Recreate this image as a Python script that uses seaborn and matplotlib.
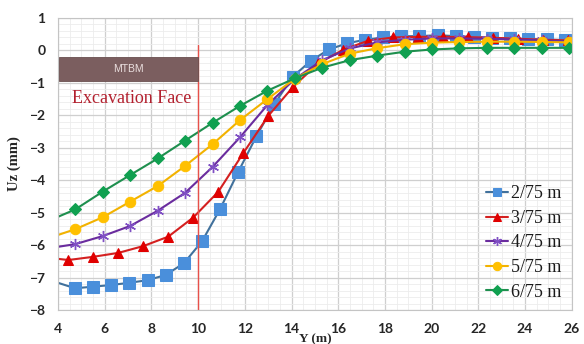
import matplotlib
matplotlib.use("Agg")
import matplotlib.pyplot as plt
from matplotlib.patches import Rectangle
from matplotlib.ticker import MultipleLocator
import pandas as pd
import seaborn as sns

# Vertical settlement Uz (mm) along the tunnel axis Y (m) for five depths.
# The first entry of each series lies just left of the plotted range; it only
# carries the line to the axis edge and gets no marker.
y_2_75 = [3.95, 4.73, 5.51, 6.28, 7.06, 7.84, 8.61, 9.39, 10.17, 10.94, 11.72,
          12.50, 13.27, 14.05, 14.83, 15.60, 16.38, 17.15, 17.93, 18.70, 19.48,
          20.26, 21.03, 21.81, 22.59, 23.37, 24.14, 24.92, 25.70]
uz_2_75 = [-7.15, -7.33, -7.28, -7.23, -7.16, -7.08, -6.92, -6.56, -5.88, -4.89,
           -3.74, -2.64, -1.65, -0.81, -0.32, 0.03, 0.22, 0.33, 0.40, 0.44, 0.44,
           0.47, 0.44, 0.42, 0.39, 0.37, 0.35, 0.34, 0.32]

y_3_75 = [3.37, 4.44, 5.51, 6.58, 7.65, 8.72, 9.79, 10.86, 11.93, 13.00, 14.07,
          15.14, 16.21, 17.28, 18.35, 19.42, 20.49, 21.56, 22.63, 23.70, 24.77,
          25.84]
uz_3_75 = [-6.37, -6.46, -6.36, -6.24, -6.03, -5.74, -5.15, -4.36, -3.17, -2.02,
           -1.12, -0.40, 0.02, 0.30, 0.40, 0.42, 0.42, 0.41, 0.39, 0.36, 0.33,
           0.31]

y_coarse = [3.57, 4.74, 5.92, 7.09, 8.27, 9.44, 10.62, 11.79, 12.97, 14.14,
            15.32, 16.49, 17.67, 18.84, 20.02, 21.19, 22.37, 23.54, 24.72, 25.89]
uz_4_75 = [-6.10, -5.97, -5.72, -5.41, -4.94, -4.39, -3.59, -2.68, -1.68, -0.88,
           -0.30, 0.06, 0.25, 0.33, 0.37, 0.37, 0.36, 0.34, 0.31, 0.28]
uz_5_75 = [-5.79, -5.51, -5.14, -4.66, -4.18, -3.56, -2.89, -2.15, -1.50, -0.87,
           -0.42, -0.10, 0.07, 0.19, 0.24, 0.26, 0.27, 0.27, 0.26, 0.25]
uz_6_75 = [-5.26, -4.90, -4.35, -3.84, -3.33, -2.78, -2.23, -1.71, -1.24, -0.86,
           -0.53, -0.30, -0.16, -0.04, 0.03, 0.065, 0.08, 0.08, 0.08, 0.08]

series_labels = ["2/75 m", "3/75 m", "4/75 m", "5/75 m", "6/75 m"]
x_ticks = [4, 6, 8, 10, 12, 14, 16, 18, 20, 22, 24, 26]
y_ticks = [1, 0, -1, -2, -3, -4, -5, -6, -7, -8]
face_y = 10.0

series = [
    (y_2_75, uz_2_75, dict(color="#41719c", marker="s", markersize=8,
                           markerfacecolor="#4a8fdb", markeredgecolor="#4a8fdb")),
    (y_3_75, uz_3_75, dict(color="#d42020", marker="^", markersize=7,
                           markerfacecolor="#e00000", markeredgecolor="#e00000")),
    (y_coarse, uz_4_75, dict(color="#6a2c9e", marker=(6, 2, 0), markersize=8,
                             markerfacecolor="#8050c4", markeredgecolor="#8050c4",
                             markeredgewidth=1.0)),
    (y_coarse, uz_5_75, dict(color="#f2b200", marker="o", markersize=7.5,
                             markerfacecolor="#ffc000", markeredgecolor="#ffc000")),
    (y_coarse, uz_6_75, dict(color="#1e8f4e", marker="D", markersize=6,
                             markerfacecolor="#10a050", markeredgecolor="#10a050")),
]

sns.set_theme(style="white")
plt.rcParams["font.family"] = ["Lato", "DejaVu Sans"]

fig = plt.figure(figsize=(5.84, 3.44), dpi=100)
ax = fig.add_axes([0.0993, 0.0988, 0.8797, 0.8489])

for (xs, ys, style), label in zip(series, series_labels):
    df = pd.DataFrame({"Y": xs, "Uz": ys})
    sns.lineplot(data=df, x="Y", y="Uz", ax=ax, label=label, estimator=None,
                 sort=False, linewidth=1.5, markevery=slice(1, None), **style)

ax.set_xlim(4, 26)
ax.set_ylim(-8, 1)
ax.set_xticks(x_ticks)
ax.set_yticks(y_ticks)
ax.xaxis.set_minor_locator(MultipleLocator(0.5))
ax.yaxis.set_minor_locator(MultipleLocator(0.2))
ax.grid(which="major", color="#cfcfcf", linewidth=0.9)
ax.grid(which="minor", color="#ececec", linewidth=0.6)
ax.set_axisbelow(True)
for sp in ax.spines.values():
    sp.set_color("#c4c4c4")
    sp.set_linewidth(0.8)

ax.tick_params(which="both", length=0)
ax.tick_params(axis="x", pad=9, labelsize=10, labelcolor="#262626")
ax.tick_params(axis="y", pad=9, labelsize=10, labelcolor="#262626")
for t in ax.get_xticklabels() + ax.get_yticklabels():
    t.set_fontweight("bold")

ax.set_ylabel("Uz (mm)", family=["Liberation Serif"], fontweight="bold",
              fontsize=10.5, color="#262626", labelpad=6)
ax.set_xlabel("Y (m)", family=["Liberation Serif"], fontweight="bold",
              fontsize=9.5, color="#262626", labelpad=-1)

# Machine body behind the excavation face
ax.add_patch(Rectangle((4.05, -0.95), face_y - 4.05, 0.74, facecolor="#7b5e5f",
                       edgecolor="#6a5050", linewidth=0.6, zorder=3))
ax.text((4.05 + face_y) / 2, -0.58, "MTBM", ha="center", va="center",
        fontsize=7.5, color="#eadede", family=["Liberation Sans"], zorder=4)
ax.plot([face_y, face_y], [-8, 0.17], color="#e8504a", linewidth=1.0, zorder=2)
ax.text(7.15, -1.47, "Excavation Face", ha="center", va="center", fontsize=13,
        color="#b3202e", family=["Liberation Serif"], zorder=4)

leg = ax.legend(loc="lower right", bbox_to_anchor=(1.0, -0.005), frameon=False,
                prop={"family": "Liberation Serif", "size": 13},
                handlelength=1.2, handletextpad=0.15, labelspacing=0.42,
                borderaxespad=0.2, markerscale=0.8)
for t in leg.get_texts():
    t.set_color("#1a1a1a")

fig.savefig("out.png", dpi=100)
